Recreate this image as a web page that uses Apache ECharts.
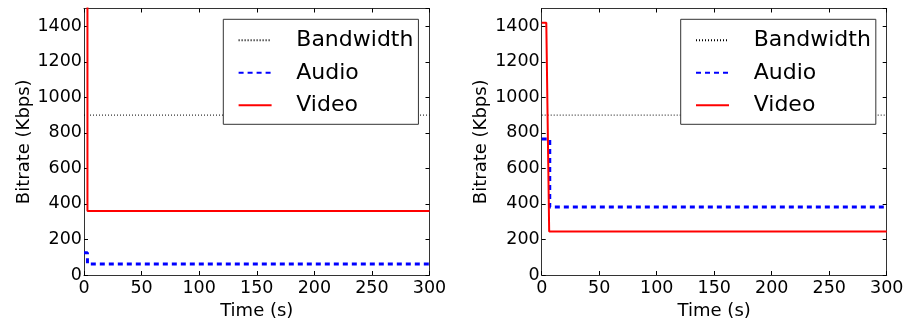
<!DOCTYPE html>
<html>
<head>
<meta charset="utf-8">
<script src="https://cdn.jsdelivr.net/npm/echarts@6/dist/echarts.min.js"></script>
<style>
html,body{margin:0;padding:0;background:#fff;}
#c{width:908px;height:321px;}
</style>
</head>
<body>
<div id="c"></div>
<script>
// ---- data ----
const seriesNames = ["Bandwidth", "Audio", "Video"];
const xTicks = [0, 50, 100, 150, 200, 250, 300];
const yTicks = [0, 200, 400, 600, 800, 1000, 1200, 1400];
// left panel: [time (s), bitrate (Kbps)]
const leftBandwidth = [[0, 900], [300, 900]];
const leftAudio = [[0, 125], [3, 125], [3, 62], [300, 62]];
const leftVideo = [[0, 2000], [3, 2000], [3, 360], [300, 360]];
// right panel
const rightBandwidth = [[0, 900], [300, 900]];
const rightAudio = [[0, 765], [7, 765], [7, 383], [300, 383]];
const rightVideo = [[0, 1420], [4, 1420], [6.5, 245], [300, 245]];

const FONT = "DejaVu Sans";
const chart = echarts.init(document.getElementById('c'), null, {renderer: 'canvas'});

const grids = [
  {left: 84, right: 478.5, top: 8.5, bottom: 46, containLabel: false, outerBoundsMode: 'none'},
  {left: 541.7, right: 21.3, top: 8.5, bottom: 46, containLabel: false, outerBoundsMode: 'none'}
];

function mainX(i) {
  return {
    type: 'value', gridIndex: i, min: xTicks[0], max: xTicks[xTicks.length - 1], interval: 50,
    name: 'Time (s)', nameLocation: 'middle', nameGap: 24,
    nameTextStyle: {fontFamily: FONT, fontSize: 18, color: '#000'},
    axisLine: {show: true, onZero: false, lineStyle: {color: '#333', width: 1}},
    axisTick: {show: true, inside: true, length: 4, lineStyle: {color: '#000'}},
    axisLabel: {fontFamily: FONT, fontSize: 17.5, color: '#000', margin: 4.5},
    splitLine: {show: false}
  };
}
function topX(i) {
  return {
    type: 'value', gridIndex: i, position: 'top', min: xTicks[0], max: xTicks[xTicks.length - 1], interval: 50,
    axisLine: {show: true, onZero: false, lineStyle: {color: '#333', width: 1}},
    axisTick: {show: true, inside: true, length: 4, lineStyle: {color: '#000'}},
    axisLabel: {show: false}, splitLine: {show: false}
  };
}
function mainY(i) {
  return {
    type: 'value', gridIndex: i, min: yTicks[0], max: 1500, interval: 200,
    name: 'Bitrate (Kbps)', nameLocation: 'middle', nameGap: 51,
    nameTextStyle: {fontFamily: FONT, fontSize: 18, color: '#000'},
    axisLine: {show: true, onZero: false, lineStyle: {color: '#333', width: 1}},
    axisTick: {show: true, inside: true, length: 4, lineStyle: {color: '#000'}},
    axisLabel: {fontFamily: FONT, fontSize: 17.5, color: '#000', margin: 2, showMaxLabel: false,
      formatter: v => (yTicks.indexOf(v) >= 0 ? String(v) : '')},
    splitLine: {show: false}
  };
}
function rightY(i) {
  return {
    type: 'value', gridIndex: i, position: 'right', min: yTicks[0], max: 1500, interval: 200,
    axisLine: {show: true, onZero: false, lineStyle: {color: '#333', width: 1}},
    axisTick: {show: true, inside: true, length: 4, lineStyle: {color: '#000'}},
    axisLabel: {show: false}, splitLine: {show: false}
  };
}

function mkSeries(name, data, xi, yi) {
  const base = {name: name, type: 'line', data: data, xAxisIndex: xi, yAxisIndex: yi,
    showSymbol: false, symbol: 'none', animation: false, clip: true};
  if (name === 'Bandwidth') {
    base.lineStyle = {color: '#000', width: 1, type: [1, 2]};
    base.itemStyle = {color: '#000'};
    base.z = 2;
  } else if (name === 'Audio') {
    base.lineStyle = {color: '#0000ff', width: 3, type: [5, 4]};
    base.itemStyle = {color: '#0000ff'};
    base.z = 3;
  } else {
    base.lineStyle = {color: '#ff0000', width: 2, type: 'solid'};
    base.itemStyle = {color: '#ff0000'};
    base.z = 4;
  }
  return base;
}

function mkLegend(left) {
  return {
    show: true, orient: 'vertical', left: left, top: 19.3,
    data: seriesNames,
    backgroundColor: '#fff', borderColor: '#333', borderWidth: 1,
    padding: [9, 5, 7, 14.3],
    itemWidth: 33, itemHeight: 14, itemGap: 8.5,
    itemStyle: {opacity: 0, borderWidth: 0},
    textStyle: {fontFamily: FONT, fontSize: 22, color: '#000', lineHeight: 24, padding: [0, 0, 0, 19.7]},
    selectedMode: false, z: 10
  };
}

const option = {
  backgroundColor: '#fff',
  animation: false,
  grid: grids,
  xAxis: [mainX(0), mainX(1), topX(0), topX(1)],
  yAxis: [mainY(0), mainY(1), rightY(0), rightY(1)],
  legend: [mkLegend(223.3), mkLegend(680.7)],
  series: [
    mkSeries('Bandwidth', leftBandwidth, 0, 0),
    mkSeries('Audio', leftAudio, 0, 0),
    mkSeries('Video', leftVideo, 0, 0),
    mkSeries('Bandwidth', rightBandwidth, 1, 1),
    mkSeries('Audio', rightAudio, 1, 1),
    mkSeries('Video', rightVideo, 1, 1)
  ]
};
chart.setOption(option);
</script>
</body>
</html>
